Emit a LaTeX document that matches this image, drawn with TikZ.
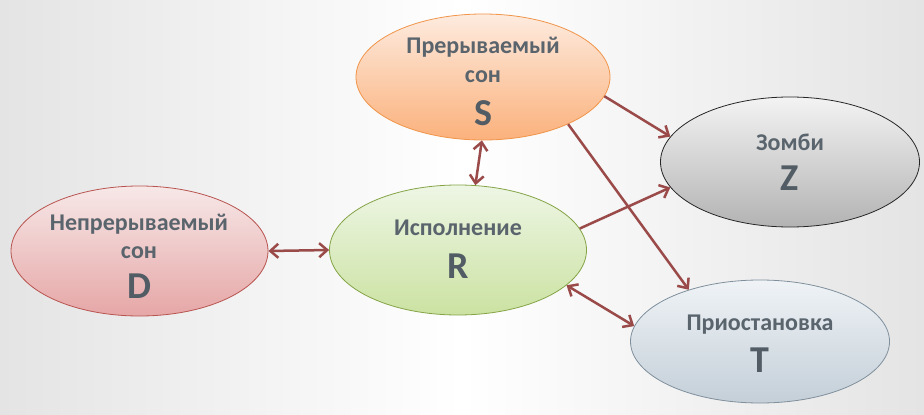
\documentclass[tikz,border=0pt]{standalone}
\usepackage{fontspec}
\setmainfont{Carlito}
\usetikzlibrary{shapes.geometric,arrows.meta}
\definecolor{bgside}{HTML}{E4E4E4}
\definecolor{txt}{HTML}{5A646C}
\definecolor{bigtxt}{HTML}{515C64}
\definecolor{arr}{HTML}{9A4A48}
\definecolor{Stop}{HTML}{FDEBDF}\definecolor{Sbot}{HTML}{FBB17C}\definecolor{Sbd}{HTML}{F0954A}
\definecolor{Dtop}{HTML}{F7E8E8}\definecolor{Dbot}{HTML}{E6A6A6}\definecolor{Dbd}{HTML}{B85450}
\definecolor{Rtop}{HTML}{EEF6E5}\definecolor{Rbot}{HTML}{CBE2A2}\definecolor{Rbd}{HTML}{84A446}
\definecolor{Ztop}{HTML}{F3F3F3}\definecolor{Zbot}{HTML}{B3B3B3}\definecolor{Zbd}{HTML}{262626}
\definecolor{Ttop}{HTML}{EFF3F6}\definecolor{Tbot}{HTML}{C4CFD8}\definecolor{Tbd}{HTML}{7F8F9C}
\tikzset{
  state/.style={ellipse, draw, line width=0.8pt, inner sep=0pt},
  lbl/.style={anchor=base, inner sep=0pt, font=\bfseries\fontsize{24}{28}\selectfont, text=txt},
  big/.style={anchor=base, inner sep=0pt, font=\bfseries\fontsize{38}{40}\selectfont, text=bigtxt},
  link/.style={draw=arr, line width=2.5pt, -{Straight Barb[length=8pt,width=14pt]}},
  dlink/.style={draw=arr, line width=2.5pt, {Straight Barb[length=8pt,width=14pt]}-{Straight Barb[length=8pt,width=14pt]}}
}
\begin{document}
\begin{tikzpicture}[x=1pt,y=-1pt]
\useasboundingbox (0,0) rectangle (924,415);
\fill[left color=bgside, right color=bgside, middle color=white] (0,0) rectangle (924,415);

% nodes
\node[state, draw=Sbd, top color=Stop, bottom color=Sbot, minimum width=254pt, minimum height=126pt] (S) at (483,77) {};
\node[state, draw=Dbd, top color=Dtop, bottom color=Dbot, minimum width=257pt, minimum height=130pt] (D) at (139.5,251) {};
\node[state, draw=Rbd, top color=Rtop, bottom color=Rbot, minimum width=257pt, minimum height=130pt] (R) at (458,250) {};
\node[state, draw=Zbd, top color=Ztop, bottom color=Zbot, minimum width=259pt, minimum height=130pt] (Z) at (790,162) {};
\node[state, draw=Tbd, top color=Ttop, bottom color=Tbot, minimum width=259pt, minimum height=123pt] (T) at (760,341.5) {};

% labels
\node[lbl] (S1) at (483,53) {Прерываемый};
\node[lbl] (S2) at (483,82) {сон};
\node[big] (S3) at (483,125) {S};
\node[lbl] (D1) at (139,230) {Непрерываемый};
\node[lbl] (D2) at (139,258) {сон};
\node[big] (D3) at (139,298) {D};
\node[lbl] (R1) at (458,235) {Исполнение};
\node[big] (R3) at (458,278) {R};
\node[lbl] (Z1) at (790,150) {Зомби};
\node[big] (Z3) at (790,190) {Z};
\node[lbl] (T1) at (760,330) {Приостановка};
\node[big] (T3) at (760,372) {T};

% connectors
\draw[dlink] (D.east) -- (R.west);
\draw[dlink] (S.269) -- (R.75);
\draw[link] (S.-9.6) -- (Z.168);
\draw[link] (S.-29.5) -- (T.144.5);
\draw[link] (R.10.8) -- (Z.192);
\draw[dlink] (R.-18) -- (T.173.6);
\end{tikzpicture}
\end{document}
